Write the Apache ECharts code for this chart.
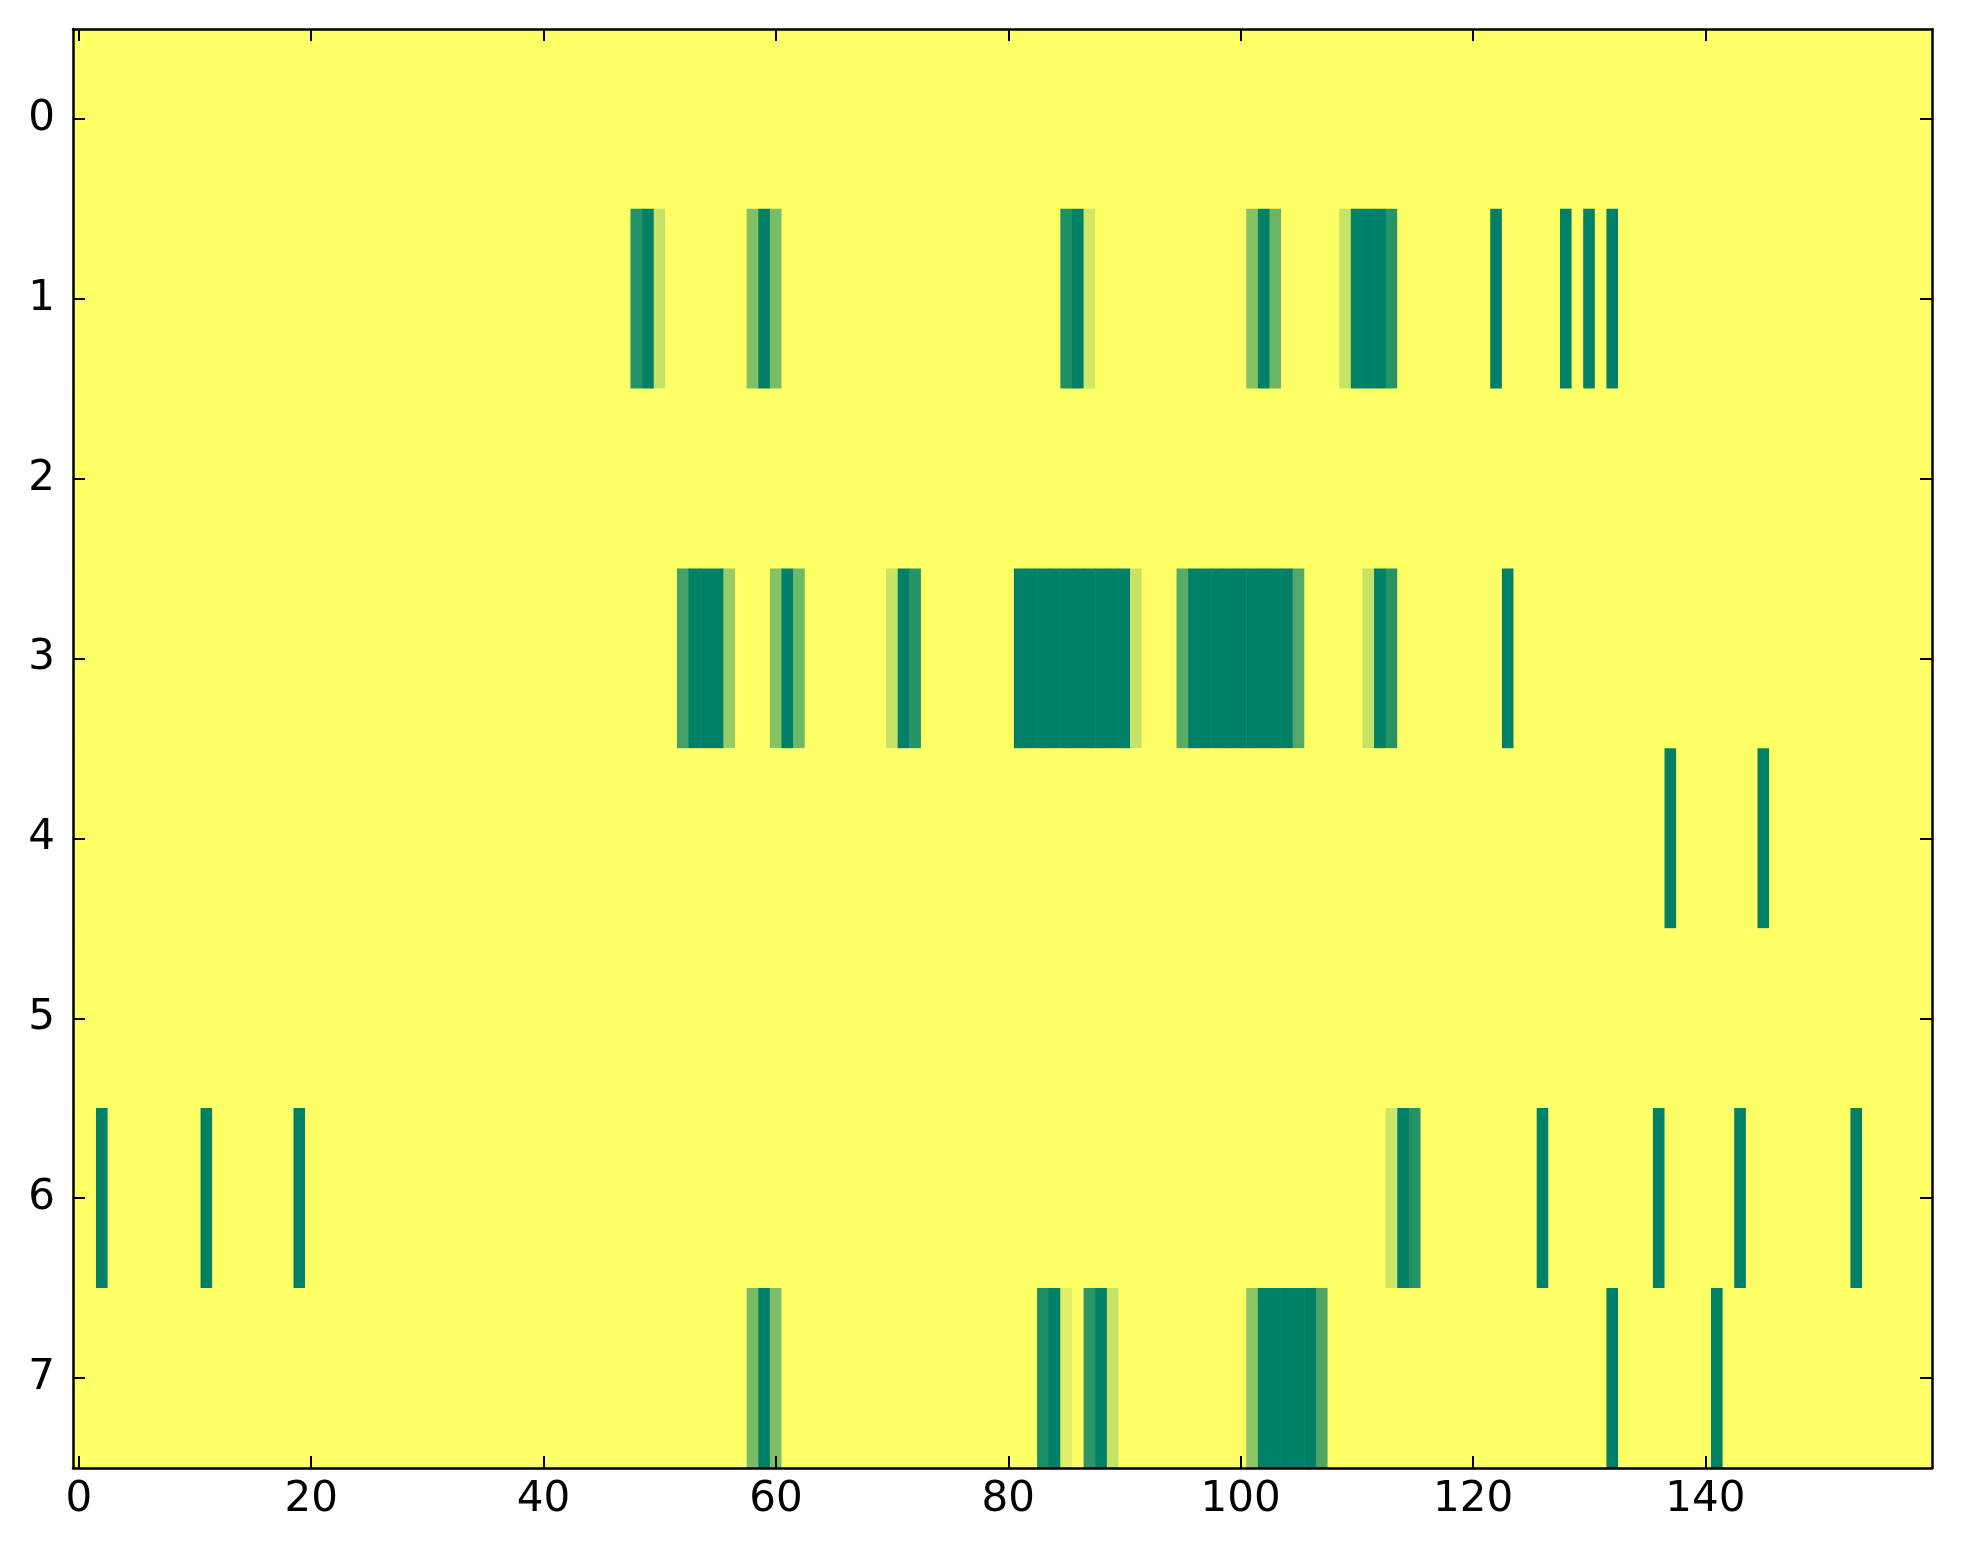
<!DOCTYPE html>
<html>
<head>
<meta charset="utf-8">
<script src="https://cdn.jsdelivr.net/npm/echarts@6/dist/echarts.min.js"></script>
<style>
html,body{margin:0;padding:0;background:#fff;}
#chart{width:1963px;height:1564px;}
</style>
</head>
<body>
<div id="chart"></div>
<script>
// Columns 0..159, rows 0..7
var NCOLS = 160;
var rowLabels = ['0','1','2','3','4','5','6','7'];
var xTickStep = 20;
var background = 1;

// Non-background cells per row: [column, value]
var row0 = [];
var row1 = [[48,0.15],[49,0],[50,0.78],[58,0.5],[59,0],[60,0.48],[85,0.12],[86,0],[87,0.82],
            [101,0.52],[102,0],[103,0.42],[109,0.78],[110,0],[111,0],[112,0],[113,0.15],
            [122,0],[128,0],[130,0],[132,0]];
var row2 = [];
var row3 = [[52,0.27],[53,0],[54,0],[55,0],[56,0.6],[60,0.52],[61,0],[62,0.44],[70,0.78],[71,0],[72,0.15],
            [81,0],[82,0],[83,0],[84,0],[85,0],[86,0],[87,0],[88,0],[89,0],[90,0],[91,0.78],
            [95,0.35],[96,0],[97,0],[98,0],[99,0],[100,0],[101,0],[102,0],[103,0],[104,0],[105,0.32],
            [111,0.78],[112,0],[113,0.15],[123,0]];
var row4 = [[137,0],[145,0]];
var row5 = [];
var row6 = [[2,0],[11,0],[19,0],[113,0.8],[114,0],[115,0.14],[126,0],[136,0],[143,0],[153,0]];
var row7 = [[58,0.47],[59,0],[60,0.49],[83,0.1],[84,0],[85,0.88],[87,0.17],[88,0],[89,0.78],
            [101,0.55],[102,0],[103,0],[104,0],[105,0],[106,0],[107,0.3],[132,0],[141,0]];

var rows = [row0,row1,row2,row3,row4,row5,row6,row7];

var xCats = [];
for (var i = 0; i < NCOLS; i++) xCats.push(String(i));

var data = [];
rows.forEach(function (cells, r) {
  var map = {};
  cells.forEach(function (c) { map[c[0]] = c[1]; });
  for (var c = 0; c < NCOLS; c++) {
    data.push([c, r, map.hasOwnProperty(c) ? map[c] : background]);
  }
});

var font = 'DejaVu Sans';
var tickEvery = function (i) { return i % xTickStep === 0; };
var axisLineStyle = {color: '#000', width: 2.5};
function tickStyle(extra) {
  var t = {show: true, inside: true, length: 12, lineStyle: {color: '#000', width: 2}};
  for (var k in extra) t[k] = extra[k];
  return t;
}

var chart = echarts.init(document.getElementById('chart'), null, {renderer: 'canvas'});
chart.setOption({
  animation: false,
  backgroundColor: '#ffffff',
  grid: {left: 73, right: 31, top: 29, bottom: 96, containLabel: false},
  visualMap: {
    type: 'continuous', show: false, min: 0, max: 1, dimension: 2,
    inRange: {color: ['#008066', '#ffff66']}
  },
  xAxis: [{
    type: 'category', data: xCats, position: 'bottom', zlevel: 1, z: 10,
    axisLine: {show: true, lineStyle: axisLineStyle},
    axisTick: tickStyle({alignWithLabel: true, interval: tickEvery}),
    axisLabel: {interval: tickEvery, color: '#000', fontSize: 42, fontFamily: font, margin: 11},
    splitLine: {show: false}
  }, {
    type: 'category', data: xCats, position: 'top', zlevel: 1, z: 10,
    axisLine: {show: true, lineStyle: axisLineStyle},
    axisTick: tickStyle({alignWithLabel: true, interval: tickEvery}),
    axisLabel: {show: false},
    splitLine: {show: false}
  }],
  yAxis: [{
    type: 'category', data: rowLabels, inverse: true, position: 'left', zlevel: 1, z: 10,
    axisLine: {show: true, lineStyle: axisLineStyle},
    axisTick: tickStyle({alignWithLabel: true, interval: 0}),
    axisLabel: {color: '#000', fontSize: 42, fontFamily: font, margin: 18},
    splitLine: {show: false}
  }, {
    type: 'category', data: rowLabels, inverse: true, position: 'right', zlevel: 1, z: 10,
    axisLine: {show: true, lineStyle: axisLineStyle},
    axisTick: tickStyle({alignWithLabel: true, interval: 0}),
    axisLabel: {show: false},
    splitLine: {show: false}
  }],
  series: [{
    type: 'heatmap', xAxisIndex: 0, yAxisIndex: 0, z: 2,
    data: data, progressive: 0,
    itemStyle: {borderWidth: 0},
    emphasis: {disabled: true}
  }]
});
</script>
</body>
</html>
